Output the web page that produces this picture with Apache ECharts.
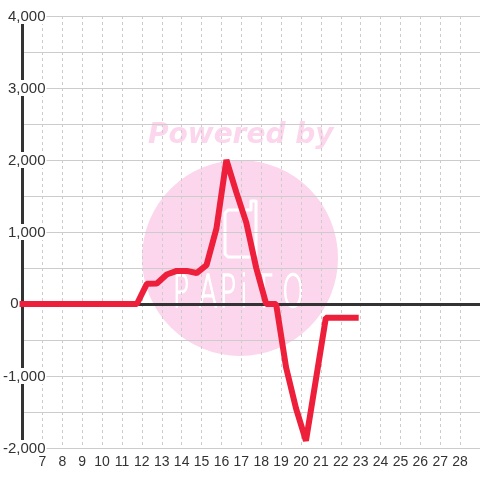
<!DOCTYPE html>
<html><head><meta charset="utf-8">
<script src="https://cdn.jsdelivr.net/npm/echarts/dist/echarts.min.js"></script>
<style>html,body{margin:0;padding:0;background:#fff}#c{width:480px;height:480px}</style>
</head><body><div id="c"></div>
<script>
// data
const xValues = [6, 6.25, 6.75, 7.25, 7.75, 8.25, 8.75, 9.25, 9.75, 10.25, 10.75, 11.25, 11.75,
  12.25, 12.75, 13.25, 13.75, 14.25, 14.75, 15.25, 15.75, 16.25, 16.75, 17.25, 17.75,
  18.25, 18.75, 19.25, 19.75, 20.25, 20.75, 21.25, 21.75, 22.25, 22.75];
const yValues = [0, 0, 0, 0, 0, 0, 0, 0, 0, 0, 0, 0, 0,
  280, 285, 410, 460, 460, 430, 540, 1050, 2000, 1550, 1130, 500,
  0, 0, -880, -1450, -1900, -1050, -190, -190, -190, -190];
const xMin = 6, xMax = 29;
const yMin = -2000, yMax = 4000, yStep = 1000;
const watermarkTop = 'Powered by';
const watermarkLetters = ['P', 'A', 'P', 'i', 'T', 'O'];
const letterX = [181, 208, 228, 244, 264, 293];

const fmt = v => v.toLocaleString('en-US');
const chart = echarts.init(document.getElementById('c'), null, {renderer: 'canvas'});
const LINE = '#ee1f3a', INK = '#333', GRID = '#cccccc', PINK = '#fbd6ec';

const graphics = [
  {type: 'circle', z: -1, silent: true, shape: {cx: 240, cy: 258, r: 98}, style: {fill: PINK}},
  {type: 'text', z: -1, silent: true, x: 148, y: 136,
    style: {text: watermarkTop, font: 'italic bold 28px "DejaVu Sans"', fill: '#fcd6ec', align: 'left', verticalAlign: 'middle'}},
  {type: 'polygon', z: -1, silent: true,
    shape: {points: [[228, 210], [251, 210], [251, 201], [256, 201], [256, 257], [228, 257], [225, 254], [225, 213]]},
    style: {fill: 'none', stroke: '#fff', lineWidth: 3, lineJoin: 'round'}}
];
watermarkLetters.forEach((ch, i) => {
  graphics.push({type: 'text', z: -1, silent: true, x: letterX[i], y: 296, scaleX: 0.62,
    style: {text: ch, font: '200 44px "DejaVu Sans"', fill: '#fff', stroke: '#fff', lineWidth: 1.4,
      align: 'center', verticalAlign: 'middle'}});
});

chart.setOption({
  animation: false,
  backgroundColor: '#fff',
  grid: {left: 20, right: 0, top: 16, bottom: 32, containLabel: false},
  graphic: graphics,
  xAxis: [{
    type: 'value', min: xMin, max: xMax, interval: 1, position: 'bottom',
    axisLine: {show: false, onZero: false}, axisTick: {show: false},
    axisLabel: {color: INK, fontSize: 14, fontFamily: 'Liberation Sans', margin: 7, showMinLabel: false, showMaxLabel: false},
    splitLine: {show: true, lineStyle: {color: GRID, width: 1, type: [3, 3]}}
  }, {
    type: 'value', min: xMin, max: xMax, position: 'bottom',
    axisLine: {show: true, onZero: true, lineStyle: {color: INK, width: 3}},
    axisTick: {show: false}, axisLabel: {show: false}, splitLine: {show: false}
  }],
  yAxis: {
    type: 'value', min: yMin, max: yMax, interval: yStep,
    axisLine: {show: true, onZero: false, lineStyle: {color: INK, width: 3}},
    axisTick: {show: false},
    minorTick: {show: false, splitNumber: 2},
    splitLine: {show: true, lineStyle: {color: GRID, width: 1}},
    minorSplitLine: {show: true, lineStyle: {color: GRID, width: 1}},
    axisLabel: {
      margin: -24, align: 'right',
      formatter: v => v === 0 ? '{z|0}{s|}' : '{n|' + fmt(v) + '}',
      rich: {
        n: {backgroundColor: '#fff', color: INK, fontSize: 15, fontFamily: 'Liberation Sans', padding: [1, 1, 0, 0], lineHeight: 15},
        z: {color: INK, fontSize: 15, fontFamily: 'Liberation Sans', lineHeight: 15},
        s: {width: 28}
      }
    }
  },
  series: [{
    type: 'line', xAxisIndex: 0, yAxisIndex: 0,
    data: xValues.map((x, i) => [x, yValues[i]]),
    symbol: 'none', clip: false, z: 5, silent: true,
    lineStyle: {color: LINE, width: 6, cap: 'square'}
  }]
});
</script>
</body></html>
